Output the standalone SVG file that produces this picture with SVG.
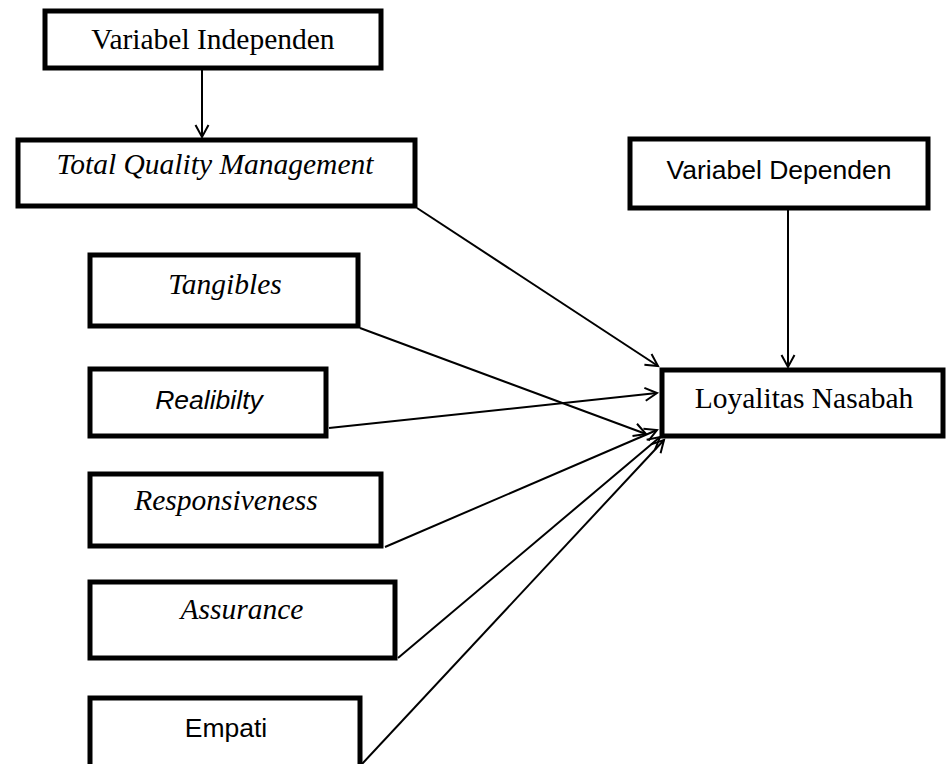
<svg xmlns="http://www.w3.org/2000/svg" width="946" height="764" viewBox="0 0 946 764">
<defs>
<style>
.box{fill:#fff;stroke:#000;stroke-width:5}
.serif{font-family:"Liberation Serif","Times New Roman",serif;font-size:29.5px;fill:#000;text-anchor:middle}
.sans{font-family:"Liberation Sans",Arial,sans-serif;font-size:26.5px;fill:#000;text-anchor:middle}
.it{font-style:italic}
.conn{stroke:#000;stroke-width:2;fill:none}
</style>
<marker id="arr" markerUnits="userSpaceOnUse" markerWidth="16" markerHeight="16" viewBox="0 0 16 16" refX="13" refY="8" orient="auto">
<path d="M1,1.5 L13,8 L1,14.5" fill="none" stroke="#000" stroke-width="2"/>
</marker>
</defs>
<rect width="946" height="764" fill="#fff"/>
<g id="connectors">
<line class="conn" x1="202" y1="70" x2="202" y2="137" marker-end="url(#arr)"/>
<line class="conn" x1="417" y1="208" x2="658" y2="366" marker-end="url(#arr)"/>
<line class="conn" x1="360" y1="328" x2="646" y2="434" marker-end="url(#arr)"/>
<line class="conn" x1="329" y1="428" x2="657" y2="393" marker-end="url(#arr)"/>
<line class="conn" x1="385" y1="547" x2="657" y2="430" marker-end="url(#arr)"/>
<line class="conn" x1="398" y1="658" x2="660" y2="437" marker-end="url(#arr)"/>
<line class="conn" x1="362" y1="764" x2="664" y2="440" marker-end="url(#arr)"/>
<line class="conn" x1="788" y1="210" x2="788" y2="367" marker-end="url(#arr)"/>
</g>
<g id="var-independen">
<rect class="box" x="45" y="11" width="336" height="57"/>
<text class="serif" x="213" y="49">Variabel Independen</text>
</g>
<g id="tqm">
<rect class="box" x="18" y="140" width="397" height="66"/>
<text class="serif it" x="215" y="174">Total Quality Management</text>
</g>
<g id="var-dependen">
<rect class="box" x="630" y="139" width="298" height="69"/>
<text class="sans" x="779" y="179">Variabel Dependen</text>
</g>
<g id="loyalitas">
<rect class="box" x="662" y="370" width="281" height="66"/>
<text class="serif" x="804" y="408">Loyalitas Nasabah</text>
</g>
<g id="tangibles">
<rect class="box" x="90" y="255" width="268" height="71"/>
<text class="serif it" x="225" y="294">Tangibles</text>
</g>
<g id="realibilty">
<rect class="box" x="90" y="369" width="236" height="67"/>
<text class="sans it" x="209" y="409">Realibilty</text>
</g>
<g id="responsiveness">
<rect class="box" x="90" y="474" width="291" height="72"/>
<text class="serif it" x="226" y="510">Responsiveness</text>
</g>
<g id="assurance">
<rect class="box" x="90" y="582" width="305" height="76"/>
<text class="serif it" x="242" y="619">Assurance</text>
</g>
<g id="empati">
<rect class="box" x="90" y="698" width="270" height="80"/>
<text class="sans" x="226" y="737">Empati</text>
</g>
</svg>
